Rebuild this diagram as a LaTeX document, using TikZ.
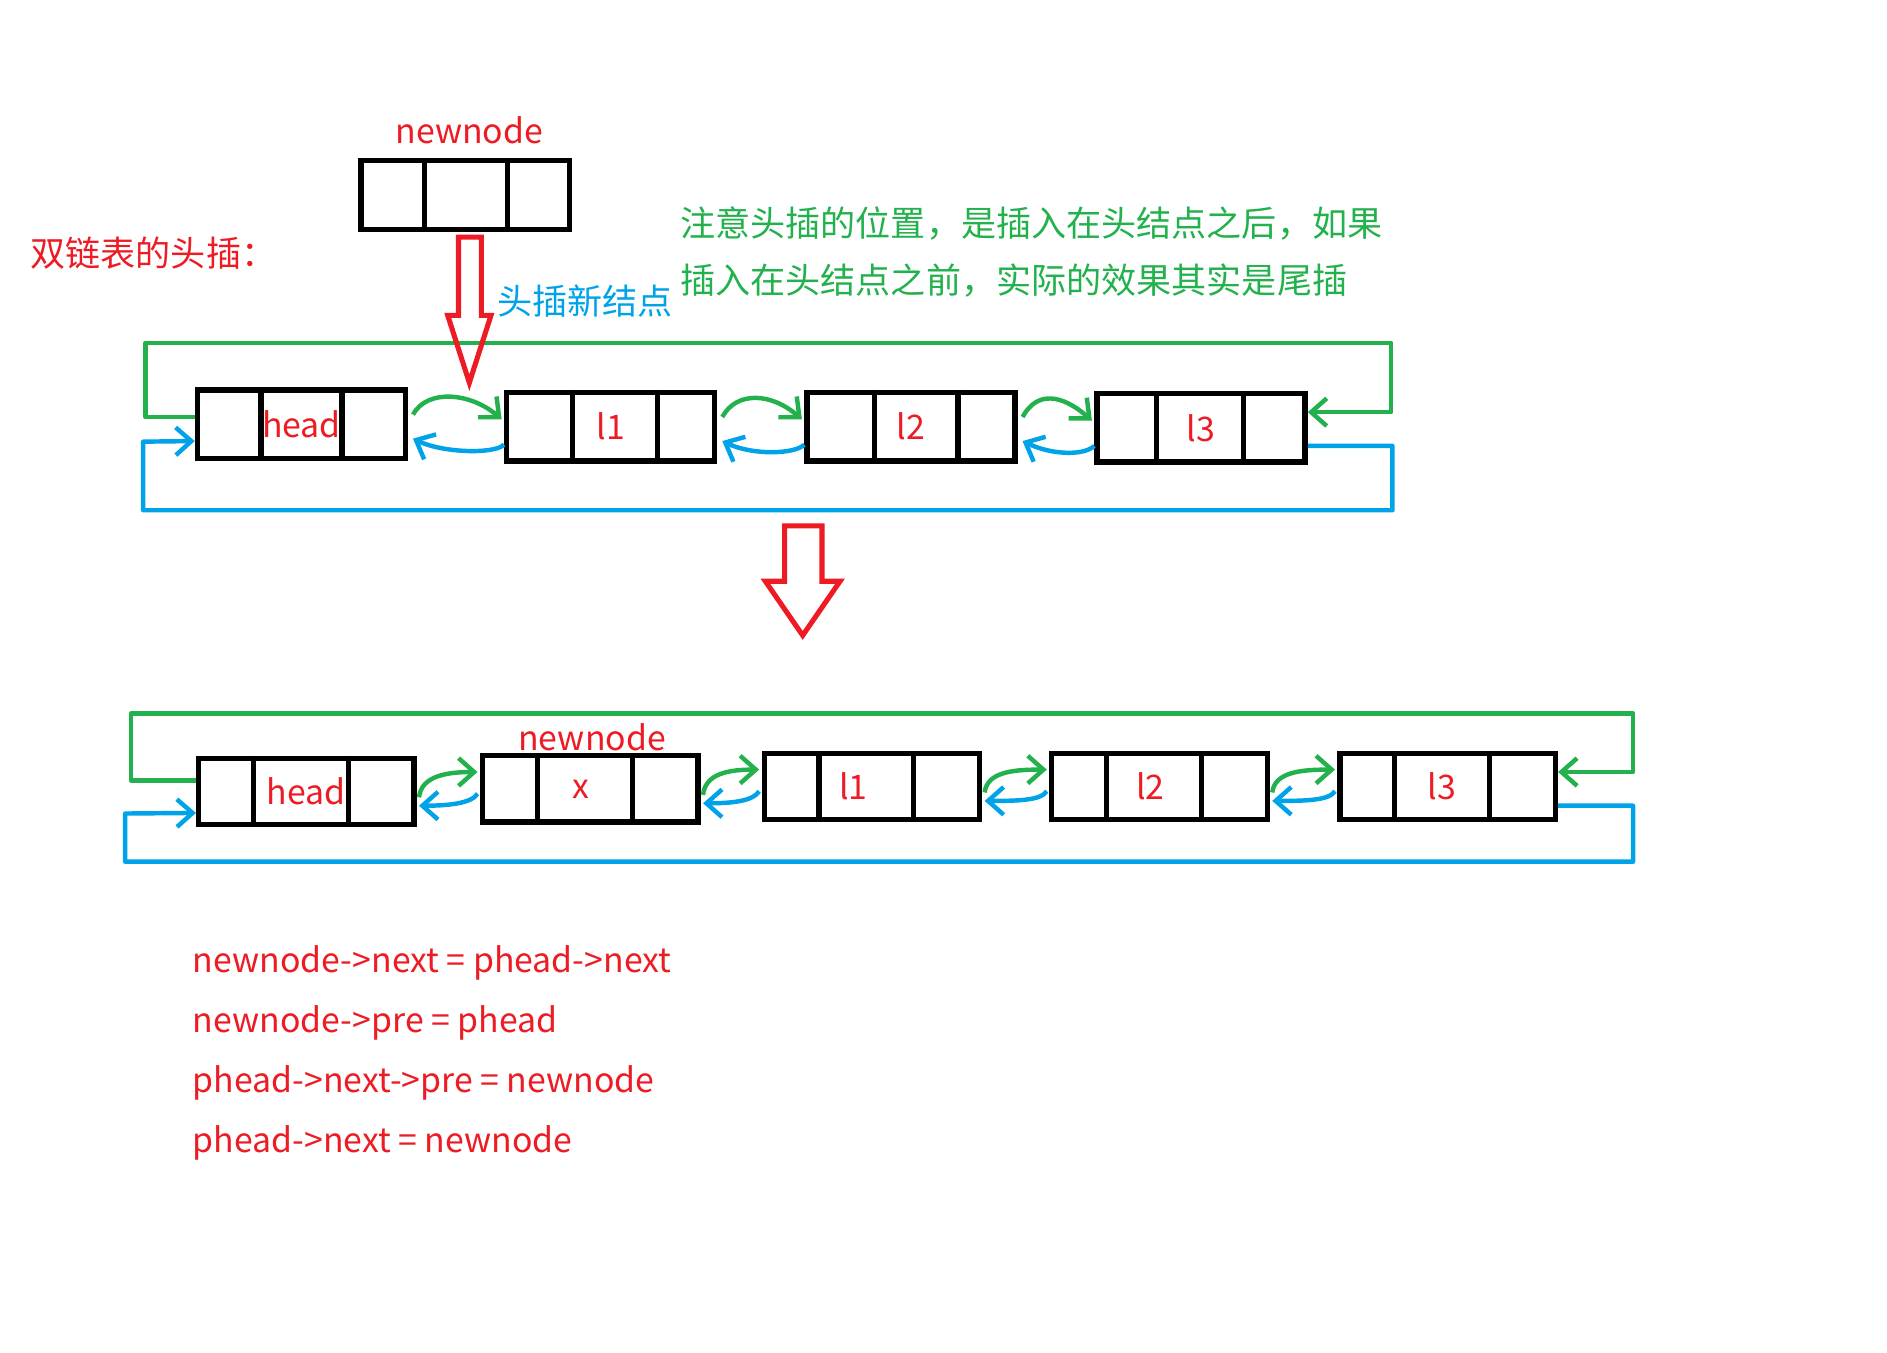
\documentclass[tikz,border=0pt]{standalone}
\usepackage{fontspec}
\setmainfont{Noto Sans CJK SC}
\usepackage{tikz}
\usetikzlibrary{arrows.meta,positioning,calc}
\definecolor{listRed}{HTML}{ED1C24}
\definecolor{listGreen}{HTML}{22B14C}
\definecolor{listBlue}{HTML}{00A2E8}
\tikzset{
  cellbox/.style={draw=black, line width=2.5pt, text=listRed, inner sep=0pt},
  toprow/.style={cellbox, minimum width=3.46cm, minimum height=1.14cm},
  lowrow/.style={cellbox, minimum width=3.58cm, minimum height=1.10cm},
  redtext/.style={text=listRed, inner sep=0pt},
  cjktext/.style={inner sep=0pt, font=\fontsize{16.6pt}{20pt}\selectfont},
  notetext/.style={cjktext, text=listGreen, anchor=west},
  nextline/.style={draw=listGreen, line width=2.1pt, line join=round},
  preline/.style={draw=listBlue, line width=2.1pt, line join=round},
  nextarrow/.style={nextline, -{Straight Barb[length=2.6mm, width=4.6mm, line width=2.1pt]}},
  prearrow/.style={preline, -{Straight Barb[length=2.6mm, width=4.6mm, line width=2.1pt]}},
  hollowarrow/.style={draw=listRed, line width=2.4pt, line join=miter}
}

\begin{document}
\begin{tikzpicture}[x=0.02cm, y=-0.02cm, font=\fontsize{16pt}{19pt}\selectfont]
  \useasboundingbox (0,0) rectangle (1568,1124);

  % titles
  \node[cjktext, text=listRed, anchor=west] (title) at (25,210) {双链表的头插：};
  \node[redtext] (newlabel) at (390,108) {newnode};
  \node[cjktext, text=listBlue, anchor=west] (insertlabel) at (413,250) {头插新结点};
  \node[notetext] (note1) at (565,186) {注意头插的位置，是插入在头结点之后，如果};
  \node[notetext] (note2) at (565,233) {插入在头结点之前，实际的效果其实是尾插};

  % new node and the list before the insert
  \node[toprow] (newbox) at (386.5,162) {};
  \node[toprow] (tHead) at (250.5,352.5) {head};
  \node[toprow] (tL1) at (507.5,354.5) {l1};
  \node[toprow] (tL2) at (757,354.5) {l2};
  \node[toprow] (tL3) at (998,355.5) {l3};

  % list after the insert
  \node[lowrow] (bHead) at (254.5,657.5) {head};
  \node[lowrow] (bNew) at (490.5,655.5) {\hspace*{-8.5pt}x};
  \node[lowrow] (bL1) at (724.5,653.5) {\hspace*{-17.5pt}l1};
  \node[lowrow] (bL2) at (963.5,653.5) {\hspace*{-8.5pt}l2};
  \node[lowrow] (bL3) at (1203,653.5) {\hspace*{-5.5pt}l3};
  \node[redtext] (bNewLabel) at (492,613) {newnode};

  % cell dividers
  \foreach \n/\a/\b in {newbox/0.31/0.70, tHead/0.31/0.69, tL1/0.32/0.72, tL2/0.33/0.72, tL3/0.29/0.70,
                        bHead/0.26/0.69, bNew/0.26/0.69, bL1/0.26/0.69, bL2/0.26/0.69, bL3/0.26/0.69}
    \draw[line width=2.5pt] ($(\n.north west)!\a!(\n.north east)$) -- ($(\n.south west)!\a!(\n.south east)$)
                            ($(\n.north west)!\b!(\n.north east)$) -- ($(\n.south west)!\b!(\n.south east)$);

  % links between neighbours
  \foreach \a/\b in {tHead/tL1, tL1/tL2, tL2/tL3} {
    \draw[nextarrow] ([shift={(4,-8)}]\a.east) .. controls +(12,-22) and +(-25,-22) .. ([shift={(-2,-6)}]\b.west);
    \draw[prearrow] ([shift={(0,15)}]\b.west) .. controls +(-8,8) and +(25,12) .. ([shift={(4,12)}]\a.east);
  }
  \foreach \a/\b in {bHead/bNew, bNew/bL1, bL1/bL2, bL2/bL3} {
    \draw[nextarrow] ([shift={(2,5)}]\a.east) .. controls +(2,-18) and +(-25,0) .. ([shift={(-2,-14)}]\b.west);
    \draw[prearrow] ([shift={(-2,4)}]\b.west) .. controls +(-5,8) and +(25,0) .. ([shift={(2,12)}]\a.east);
  }

  % wrap-around links
  \draw[nextarrow] ([shift={(0,-6)}]tHead.west) -- ++(-41,0) |- (1156,285) |- ([shift={(0,-13)}]tL3.east);
  \draw[prearrow] ([shift={(0,15)}]tL3.east) -| (1157,424) -| (119,367) -- ([shift={(0,14)}]tHead.west);
  \draw[nextarrow] ([shift={(0,-9)}]bHead.west) -- ++(-54,0) |- (1357,593) |- ([shift={(0,-12)}]bL3.east);
  \draw[prearrow] ([shift={(0,16)}]bL3.east) -| (1357,716) -| (104,676) -- ([shift={(0,18)}]bHead.west);

  % hollow arrows
  \draw[hollowarrow] (381,197) -- (400,197) -- (400,262) -- (408,262) -- (390,318) -- (372,262) -- (381,262) -- cycle;
  \draw[hollowarrow] (652,437) -- (683,437) -- (683,483) -- (698,483) -- (667,528) -- (636,483) -- (652,483) -- cycle;

  % pointer steps
  \foreach \t [count=\i] in {newnode->next = phead->next, newnode->pre = phead,
                             phead->next->pre = newnode, phead->next = newnode}
    \node[redtext, anchor=west] (code\i) at (160,750+50*\i) {\t};
\end{tikzpicture}
\end{document}
